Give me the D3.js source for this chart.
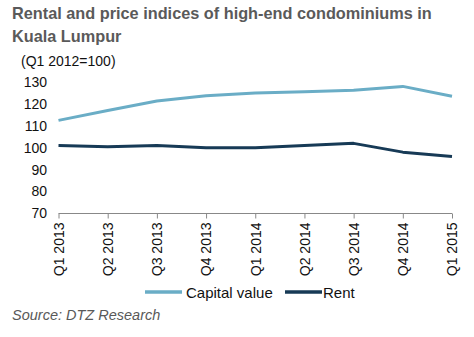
<!DOCTYPE html>
<html>
<head>
<meta charset="utf-8">
<script src="https://cdn.jsdelivr.net/npm/d3@7"></script>
<style>
  body { margin: 0; background: #fff; }
  svg { font-family: "Liberation Sans", Arial, sans-serif; }
</style>
</head>
<body>
<svg id="chart" width="474" height="337"></svg>
<script>
const quarters = ['Q1 2013','Q2 2013','Q3 2013','Q4 2013','Q1 2014','Q2 2014','Q3 2014','Q4 2014','Q1 2015'];
const capital_value = [112.5, 117, 121.3, 123.7, 125, 125.5, 126.2, 128, 123.5];
const rent = [101, 100.5, 101, 100, 100, 101, 102, 98, 96];
const y_ticks = [70, 80, 90, 100, 110, 120, 130];

const series = [
    { name: 'Capital value', values: capital_value, color: '#6aadc6' },
    { name: 'Rent',          values: rent,          color: '#173a56' }
];

const svg = d3.select('#chart');

// title
svg.append('text').attr('x', 12).attr('y', 19)
    .style('font-size', '16.3px').style('font-weight', 'bold').style('fill', '#5a5a5a')
    .text('Rental and price indices of high-end condominiums in');
svg.append('text').attr('x', 12).attr('y', 42)
    .style('font-size', '16.3px').style('font-weight', 'bold').style('fill', '#5a5a5a')
    .text('Kuala Lumpur');
svg.append('text').attr('x', 21).attr('y', 66)
    .style('font-size', '14px').style('fill', '#111')
    .text('(Q1 2012=100)');

const x = d3.scalePoint().domain(quarters).range([58.5, 452]);
const y = d3.scaleLinear().domain([70, 130]).range([213.5, 82]);

// y labels
svg.append('g').selectAll('text').data(y_ticks).join('text')
    .attr('x', 47).attr('y', d => y(d)).attr('dy', '0.35em')
    .attr('text-anchor', 'end')
    .style('font-size', '14px').style('fill', '#111')
    .text(d => d);

// x axis
const xAxis = svg.append('g').attr('transform', 'translate(0,' + y(70) + ')')
    .call(d3.axisBottom(x).tickSize(5).tickSizeOuter(0).tickPadding(4));
xAxis.select('.domain').attr('stroke', '#888').attr('d', 'M58.5,0H452');
xAxis.selectAll('.tick line').attr('stroke', '#888');
xAxis.selectAll('.tick text')
    .attr('transform', 'rotate(-90)')
    .attr('x', -9).attr('y', 0).attr('dy', '0.35em')
    .attr('text-anchor', 'end')
    .style('font-size', '14px').style('fill', '#111')
    .style('font-family', '"Liberation Sans", Arial, sans-serif');

// lines
const line = d3.line().x((d, i) => x(quarters[i])).y(d => y(d));
series.forEach(s => {
    svg.append('path').datum(s.values)
        .attr('fill', 'none').attr('stroke', s.color)
        .attr('stroke-width', 3).attr('stroke-linejoin', 'round')
        .attr('d', line);
});

// legend
const legend = [
    { s: series[0], x: 145, tx: 186 },
    { s: series[1], x: 285, tx: 323 }
];
legend.forEach(l => {
    svg.append('line').attr('x1', l.x).attr('x2', l.x + 37).attr('y1', 292).attr('y2', 292)
        .attr('stroke', l.s.color).attr('stroke-width', 3.5);
    svg.append('text').attr('x', l.tx).attr('y', 297.5)
        .style('font-size', '15px').style('fill', '#111').text(l.s.name);
});

// source
svg.append('text').attr('x', 12).attr('y', 320)
    .style('font-size', '14.5px').style('font-style', 'italic').style('fill', '#595959')
    .text('Source: DTZ Research');
</script>
</body>
</html>
